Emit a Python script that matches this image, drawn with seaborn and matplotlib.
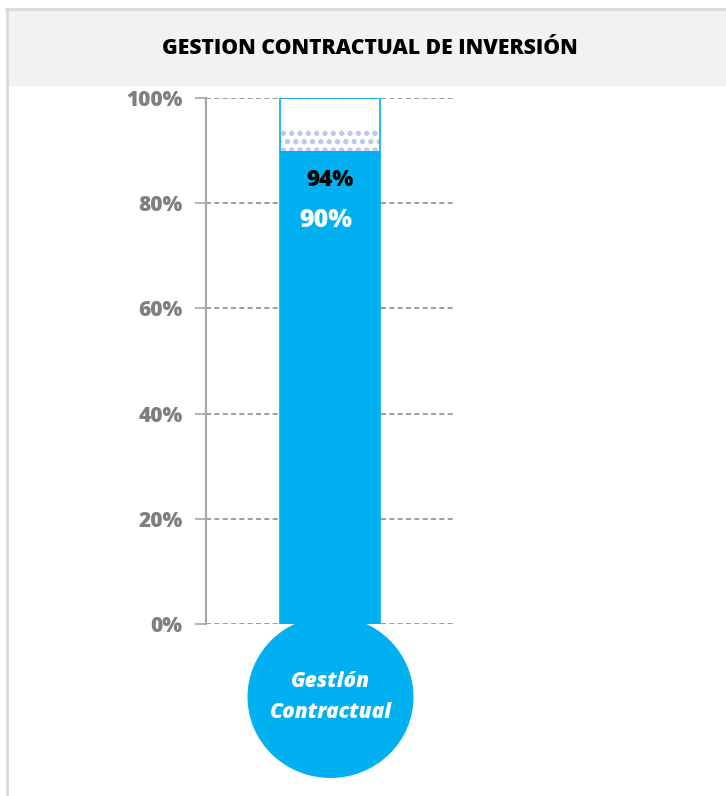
import matplotlib
matplotlib.use("Agg")
import matplotlib.pyplot as plt
import seaborn as sns
import pandas as pd
from matplotlib.patches import Ellipse, Rectangle
from matplotlib.ticker import PercentFormatter

# ---- data ----
category = ["Gestión Contractual"]
target_value = [100]
meta_value = [94]
actual_value = [90]
tick_values = [0, 20, 40, 60, 80, 100]
title_text = "GESTION CONTRACTUAL DE INVERSIÓN"

sns.set_theme(style="white")
plt.rcParams['font.family'] = ['Open Sans', 'DejaVu Sans']
WEIGHT = 800

W, H = 726, 796
fig = plt.figure(figsize=(W / 100, H / 100), dpi=100)

def fx(px):
    return px / W

def fy(py):
    return 1 - py / H

# frame / header band
fig.patches.append(Rectangle((fx(8), fy(86)), fx(726) - fx(8), fy(10) - fy(86),
                             transform=fig.transFigure, facecolor="#f2f2f2",
                             edgecolor="none", zorder=0))
fig.add_artist(plt.Line2D([fx(6.5), fx(6.5)], [fy(9), 0], transform=fig.transFigure,
                          color="#d9d9d9", lw=2))
fig.add_artist(plt.Line2D([fx(6), 1], [fy(9), fy(9)], transform=fig.transFigure,
                          color="#d9d9d9", lw=2))
fig.text(fx(370), fy(48), title_text, ha="center", va="center",
         fontsize=15.2, fontweight=WEIGHT, color="black")

# axes
ax_left, ax_right = 206, 455
ax_top, ax_bot = 98, 624
ax = fig.add_axes([fx(ax_left), fy(ax_bot), fx(ax_right) - fx(ax_left), fy(ax_top) - fy(ax_bot)])
ax.set_facecolor("none")

df_t = pd.DataFrame({"cat": category, "val": target_value})
df_m = pd.DataFrame({"cat": category, "val": meta_value})
df_a = pd.DataFrame({"cat": category, "val": actual_value})

bw = 100 / (ax_right - ax_left)

plt.rcParams['hatch.linewidth'] = 2.5
sns.barplot(data=df_t, x="cat", y="val", ax=ax, width=bw, color="white",
            edgecolor="#00B0F0", linewidth=1.2, saturation=1, zorder=3)
sns.barplot(data=df_m, x="cat", y="val", ax=ax, width=bw, color="white",
            edgecolor="#B4C6EC", linewidth=0, hatch="..", saturation=1, zorder=4)
sns.barplot(data=df_a, x="cat", y="val", ax=ax, width=bw, color="#00B0F0",
            edgecolor="#00B0F0", linewidth=0, saturation=1, zorder=5)
for p in ax.patches[:1]:
    p.set_zorder(6)
    p.set_facecolor("none")

ax.set_xlim(-0.5, 0.5)
ax.set_ylim(0, 100)
ax.set_yticks(tick_values)
ax.yaxis.set_major_formatter(PercentFormatter(decimals=0))
ax.set_xticks([])
ax.set_xlabel("")
ax.set_ylabel("")
for s in ["top", "right", "bottom"]:
    ax.spines[s].set_visible(False)
ax.spines["left"].set_color("#a6a6a6")
ax.spines["left"].set_linewidth(1.5)
ax.spines["left"].set_zorder(2)
ax.tick_params(axis="y", length=8, width=1.2, color="#a6a6a6", pad=9,
               labelsize=15, labelcolor="#7f7f7f", left=True)
for lab in ax.get_yticklabels():
    lab.set_fontweight(WEIGHT)
ax.grid(axis="y", color="#8c8c8c", linestyle=(0, (3, 2)), linewidth=1.2, zorder=1)
ax.set_axisbelow(True)

# bulb
bulb_h = 162 / (ax_bot - ax_top) * 100
bulb_cy = -(697 - ax_bot) / (ax_bot - ax_top) * 100
bulb_w = 166 / (ax_right - ax_left)
ax.add_patch(Ellipse((0, bulb_cy), bulb_w, bulb_h, facecolor="#00B0F0",
                     edgecolor="none", clip_on=False, zorder=7))
ax.text(0, bulb_cy, "Gestión\nContractual", ha="center", va="center", color="white",
        fontsize=15, fontweight=WEIGHT, fontstyle="italic", linespacing=1.6,
        clip_on=False, zorder=8)

# value labels
ax.text(0, meta_value[0] - 9.5, f"{meta_value[0]}%", ha="center", va="center",
        color="black", fontsize=16, fontweight=WEIGHT, zorder=9)
ax.text(-0.02, actual_value[0] - 13.3, f"{actual_value[0]}%", ha="center", va="center",
        color="white", fontsize=18, fontweight=WEIGHT, zorder=9)

fig.savefig("out.png", dpi=100)
